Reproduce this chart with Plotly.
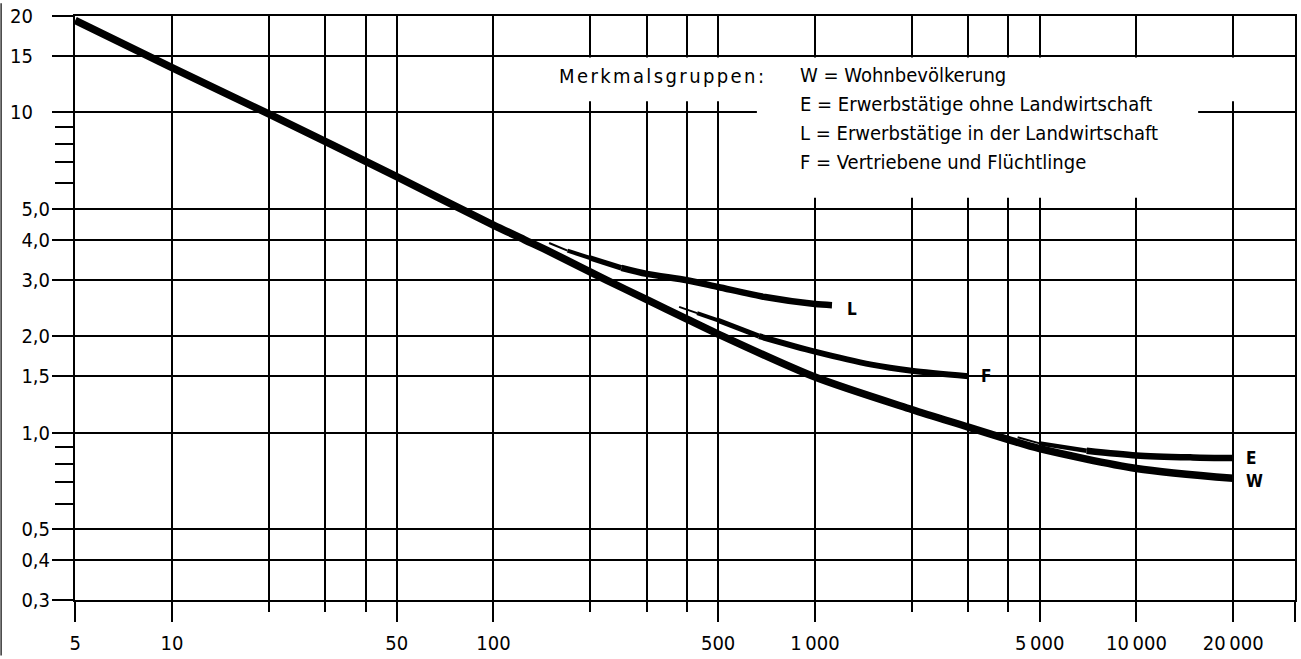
import math
import plotly.graph_objects as go

# ---------------- data ----------------
x_major = [5, 10, 50, 100, 500, 1000, 5000, 10000, 20000]
x_major_labels = ["5", "10", "50", "100", "500", "1\u2009000", "5\u2009000", "10\u2009000", "20\u2009000"]
x_minor = [20, 30, 40, 200, 300, 400, 2000, 3000, 4000]
x_end = 31100

y_major = [0.3, 0.4, 0.5, 1.0, 1.5, 2.0, 3.0, 4.0, 5.0, 10, 15, 20]
y_major_labels = ["0,3", "0,4", "0,5", "1,0", "1,5", "2,0", "3,0", "4,0", "5,0",
                  "10\u00a0\u00a0\u00a0", "15\u00a0\u00a0\u00a0", "20\u00a0\u00a0\u00a0"]
y_minor = [0.6, 0.7, 0.8, 0.9, 6, 7, 8, 9]

w_x = [5, 10, 20, 50, 100, 125, 150, 224, 300, 400, 500, 1000, 2000, 3000, 4000, 5000, 10000, 20000]
w_y = [19.4, 13.8, 9.9, 6.3, 4.45, 4.0, 3.67, 3.0, 2.60, 2.26, 2.03, 1.49, 1.18, 1.04, 0.95, 0.89, 0.772, 0.719]

l_x = [149, 170, 200, 250, 300, 400, 500, 700, 1000, 1130]
l_y = [3.91, 3.70, 3.51, 3.27, 3.13, 2.99, 2.85, 2.65, 2.52, 2.50]

f_x = [378, 430, 500, 670, 1000, 1500, 2000, 3000]
f_y = [2.47, 2.36, 2.24, 2.0, 1.79, 1.63, 1.56, 1.50]

e_x = [4270, 5000, 7000, 10000, 15000, 20000]
e_y = [0.967, 0.925, 0.877, 0.848, 0.836, 0.832]

legend_title = "Merkmalsgruppen:"
legend_lines = [
    "W = Wohnbevölkerung",
    "E = Erwerbstätige ohne Landwirtschaft",
    "L = Erwerbstätige in der Landwirtschaft",
    "F = Vertriebene und Flüchtlinge",
]

# ---------------- layout geometry ----------------
W, H = 1301, 659
ML, MR, MT, MB = 75, 4, 13, 56
PW, PH = W - ML - MR, H - MT - MB
FONT = "Liberation Sans Narrow, DejaVu Sans Condensed, Arial Narrow, sans-serif"


def px_x(px):
    return (px - ML) / PW


def px_y(py):
    return (H - MB - py) / PH


fig = go.Figure()


def add_curve(xs, ys, taper, full):
    n = len(taper)
    for i, w in enumerate(taper):
        fig.add_trace(go.Scatter(x=xs[i:i + 2], y=ys[i:i + 2], mode="lines",
                                 line=dict(color="black", width=w),
                                 hoverinfo="skip", showlegend=False))
    fig.add_trace(go.Scatter(x=xs[n:], y=ys[n:], mode="lines",
                             line=dict(color="black", width=full, shape="spline", smoothing=0.8),
                             hoverinfo="skip", showlegend=False))


add_curve(w_x, w_y, [], 7.5)
add_curve(l_x, l_y, [2, 4, 5.5], 6.5)
add_curve(f_x, f_y, [2, 4, 5.2], 6)
add_curve(e_x, e_y, [2, 4.5], 6.5)

# curve labels at the end points
for lab, xs, ys, dx, dy in [("L", l_x, l_y, 13, -4), ("F", f_x, f_y, 11, 0),
                            ("E", e_x, e_y, 11, 0), ("W", w_x, w_y, 11, -3)]:
    fig.add_annotation(x=math.log10(xs[-1]), y=math.log10(ys[-1]), xref="x", yref="y",
                       text="<b>%s</b>" % lab, showarrow=False, xanchor="left", yanchor="middle",
                       xshift=dx, yshift=dy, font=dict(family=FONT, size=17, color="black"))

# white masks behind the legend text
fig.add_shape(type="rect", xref="paper", yref="paper", x0=px_x(540), x1=px_x(1295.5),
              y0=px_y(99), y1=px_y(55), fillcolor="white", line=dict(width=0), layer="above")
fig.add_shape(type="rect", xref="paper", yref="paper", x0=px_x(758), x1=px_x(1200),
              y0=px_y(196.5), y1=px_y(98.5), fillcolor="white", line=dict(width=0), layer="above")

fig.add_annotation(xref="paper", yref="paper", x=px_x(558), y=px_y(73.5),
                   text='<span style="letter-spacing:2.4px">%s</span>' % legend_title,
                   showarrow=False, xanchor="left", yanchor="middle",
                   font=dict(family=FONT, size=20, color="black"))
for i, t in enumerate(legend_lines):
    fig.add_annotation(xref="paper", yref="paper", x=px_x(799), y=px_y(73 + 29.2 * i),
                       text=t, showarrow=False, xanchor="left", yanchor="middle",
                       font=dict(family=FONT, size=20, color="black"))

# scan border on far left
fig.add_shape(type="line", xref="paper", yref="paper", x0=px_x(1), x1=px_x(1),
              y0=px_y(H), y1=px_y(0), line=dict(color="#333", width=1.5))

eps = 0.0005
fig.update_layout(
    width=W, height=H, autosize=False,
    margin=dict(l=ML, r=MR, t=MT, b=MB, pad=0),
    paper_bgcolor="white", plot_bgcolor="white",
    showlegend=False,
    font=dict(family=FONT, size=20, color="black"),
    xaxis=dict(type="log", range=[math.log10(5) - eps, math.log10(x_end) + eps],
               tickmode="array", tickvals=x_major + [x_end], ticktext=x_major_labels + [""],
               ticks="outside", ticklen=20, tickwidth=2, tickcolor="black",
               showgrid=True, gridcolor="black", gridwidth=2,
               showline=True, linecolor="black", linewidth=2, mirror=True,
               zeroline=False, ticklabelstandoff=4,
               tickfont=dict(family=FONT, size=20, color="black"),
               minor=dict(tickmode="array", tickvals=x_minor, ticks="outside", ticklen=10,
                          tickwidth=2, tickcolor="black", showgrid=True,
                          gridcolor="black", gridwidth=2)),
    yaxis=dict(type="log", range=[math.log10(0.3) - eps, math.log10(20) + eps],
               tickmode="array", tickvals=y_major, ticktext=y_major_labels,
               ticks="outside", ticklen=21, tickwidth=2, tickcolor="black",
               showgrid=True, gridcolor="black", gridwidth=2,
               showline=True, linecolor="black", linewidth=2, mirror=True,
               zeroline=False, ticklabelstandoff=-2,
               tickfont=dict(family=FONT, size=20, color="black"),
               minor=dict(tickmode="array", tickvals=y_minor, ticks="outside", ticklen=18,
                          tickwidth=2, tickcolor="black", showgrid=False)),
)

fig.write_html("out.html")
